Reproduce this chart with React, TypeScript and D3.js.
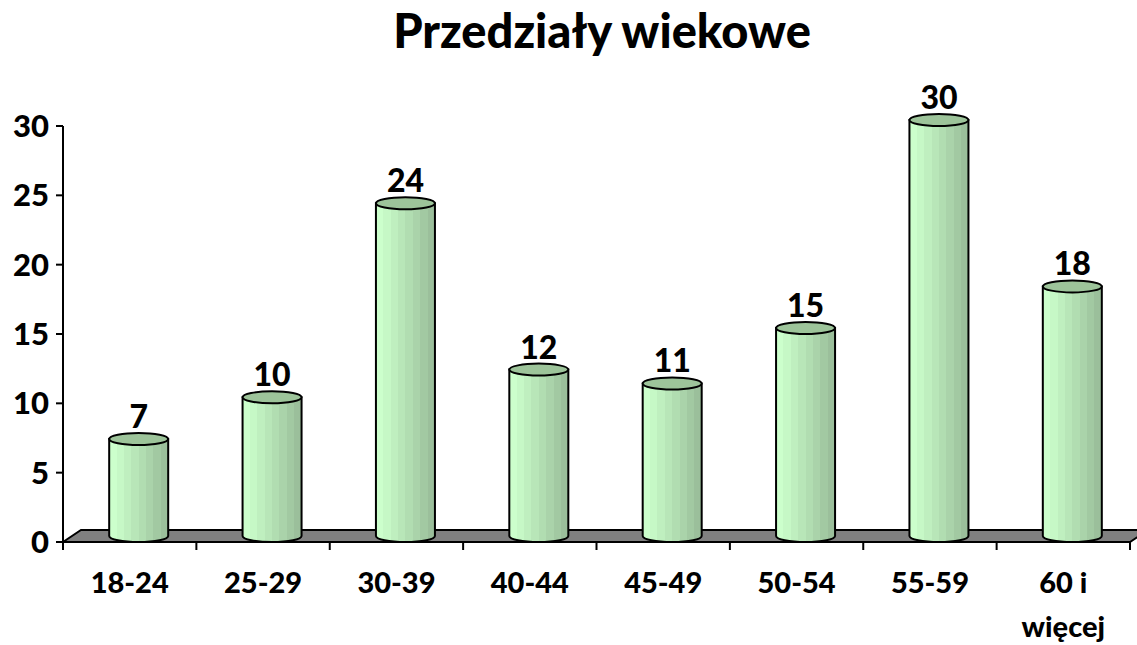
import React from "react";
import * as d3 from "d3";

const categories = ["18-24", "25-29", "30-39", "40-44", "45-49", "50-54", "55-59", "60 i|więcej"];
const values = [7, 10, 24, 12, 11, 15, 30, 18];
const yTicks = [0, 5, 10, 15, 20, 25, 30];

const W = 1137, H = 645;
const left = 63, right = 1130, top = 126, bottom = 542;
const DX = 18, DY = -12;
const FONT = "Lato, 'Open Sans', sans-serif";

export default function App() {
  const x = d3.scaleBand<string>().domain(categories).range([left, right]).paddingInner(0).paddingOuter(0);
  const y = d3.scaleLinear().domain([0, 30]).range([bottom, top]);
  const bw = 59, rx = bw / 2, ry = 6;
  const stripes = ["#ccffcc", "#c6f8c6", "#bfefbf", "#b8e6b8", "#b1ddb1", "#aad3aa", "#a2c9a2", "#9bbf9b"];
  return (
    <svg width={W} height={H} style={{ display: "block", position: "absolute", left: 0, top: 0, background: "#fff" }}>
      <defs>
        <linearGradient id="cyl" x1="0" x2="1" y1="0" y2="0">
          {stripes.map((c, i) => (
            <React.Fragment key={i}>
              <stop offset={i / stripes.length} stopColor={c} />
              <stop offset={(i + 1) / stripes.length} stopColor={c} />
            </React.Fragment>
          ))}
        </linearGradient>
      </defs>
      <text x={602} y={48} textAnchor="middle" fontFamily={FONT} fontWeight={900} fontSize={47}>Przedziały wiekowe</text>
      {/* floor */}
      <path d={`M${left},${bottom} L${left + DX},${bottom + DY} L${right + DX},${bottom + DY} L${right},${bottom} Z`} fill="#808080" stroke="#000" strokeWidth={2} />
      {/* y axis */}
      <line x1={left} x2={left} y1={top} y2={bottom} stroke="#000" strokeWidth={2} />
      {yTicks.map(t => (
        <g key={t}>
          <line x1={left - 7} x2={left} y1={y(t)} y2={y(t)} stroke="#000" strokeWidth={2} />
          <text x={49} y={y(t) + 11} textAnchor="end" fontFamily={FONT} fontWeight={900} fontSize={31}>{t}</text>
        </g>
      ))}
      {/* x axis ticks */}
      {categories.map((c, i) => (
        <line key={"t" + i} x1={x(c)! + x.bandwidth()} x2={x(c)! + x.bandwidth()} y1={bottom} y2={bottom + 8} stroke="#000" strokeWidth={2} />
      ))}
      <line x1={left} x2={left} y1={bottom} y2={bottom + 8} stroke="#000" strokeWidth={2} />
      {/* bars */}
      {categories.map((c, i) => {
        const cx = x(c)! + x.bandwidth() / 2 + DX / 2;
        const yb = bottom + DY / 2;
        const yt = y(values[i]) + DY / 2;
        const l = cx - rx, r = cx + rx;
        return (
          <g key={c}>
            <path d={`M${l},${yt} L${l},${yb} A${rx},${ry} 0 0 0 ${r},${yb} L${r},${yt} Z`} fill="url(#cyl)" stroke="#000" strokeWidth={2} />
            <ellipse cx={cx} cy={yt} rx={rx} ry={ry} fill="#9dc49a" stroke="#000" strokeWidth={2} />
            <text x={cx} y={yt - 11} textAnchor="middle" fontFamily={FONT} fontWeight={900} fontSize={32}>{values[i]}</text>
          </g>
        );
      })}
      {/* x labels */}
      {categories.map(c => {
        const lines = c.split("|");
        const cx = x(c)! + x.bandwidth() / 2;
        return (
          <text key={"l" + c} textAnchor="middle" fontFamily={FONT} fontWeight={900} fontSize={29}>
            {lines.map((s, j) => (
              <tspan key={j} x={cx} y={593 + j * 44}>{s}</tspan>
            ))}
          </text>
        );
      })}
    </svg>
  );
}
